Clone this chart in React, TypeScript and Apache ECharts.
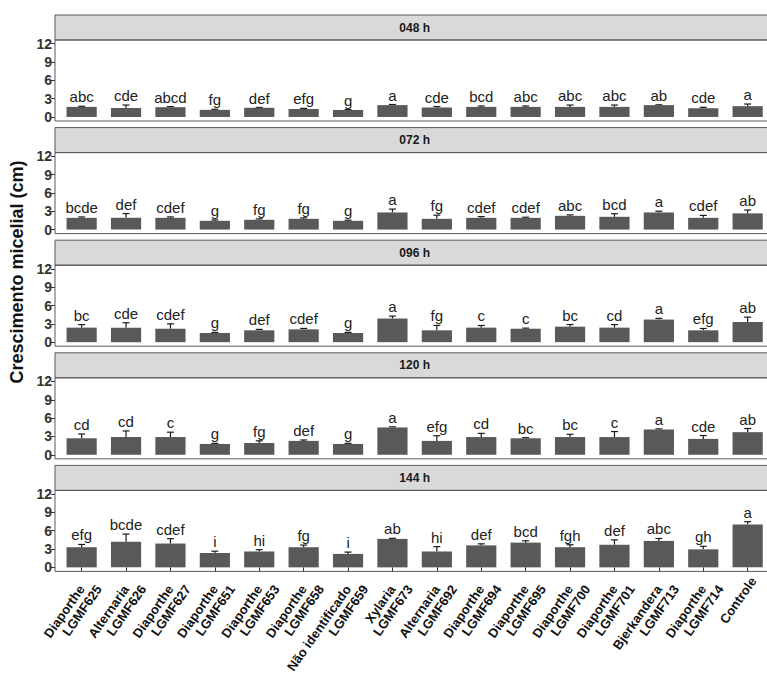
import React, { useEffect, useRef } from "react";
import * as echarts from "echarts";

const categories = [
  "Diaporthe\nLGMF625",
  "Alternaria\nLGMF626",
  "Diaporthe\nLGMF627",
  "Diaporthe\nLGMF651",
  "Diaporthe\nLGMF653",
  "Diaporthe\nLGMF658",
  "Não identificado\nLGMF659",
  "Xylaria\nLGMF673",
  "Alternaria\nLGMF692",
  "Diaporthe\nLGMF694",
  "Diaporthe\nLGMF695",
  "Diaporthe\nLGMF700",
  "Diaporthe\nLGMF701",
  "Bjerkandera\nLGMF713",
  "Diaporthe\nLGMF714",
  "Controle",
];

const panelTitles = ["048 h", "072 h", "096 h", "120 h", "144 h"];
const yTicks = [0, 3, 6, 9, 12];

const mean048 = [1.65, 1.45, 1.6, 1.16, 1.5, 1.3, 1.15, 1.94, 1.55, 1.65, 1.65, 1.65, 1.65, 1.94, 1.43, 1.77];
const sd048 = [0.1, 0.5, 0.1, 0.1, 0.05, 0.1, 0.05, 0.1, 0.15, 0.15, 0.15, 0.3, 0.3, 0.05, 0.15, 0.35];
const letters048 = ["abc", "cde", "abcd", "fg", "def", "efg", "g", "a", "cde", "bcd", "abc", "abc", "abc", "ab", "cde", "a"];

const mean072 = [1.92, 1.92, 1.92, 1.43, 1.6, 1.76, 1.43, 2.8, 1.76, 1.92, 1.92, 2.25, 2.09, 2.8, 1.92, 2.65];
const sd072 = [0.15, 0.7, 0.15, 0.15, 0.15, 0.15, 0.1, 0.55, 0.6, 0.2, 0.1, 0.15, 0.5, 0.2, 0.4, 0.55];
const letters072 = ["bcde", "def", "cdef", "g", "fg", "fg", "g", "a", "fg", "cdef", "cdef", "abc", "bcd", "a", "cdef", "ab"];

const mean096 = [2.38, 2.38, 2.2, 1.5, 1.94, 2.1, 1.5, 3.87, 1.94, 2.38, 2.2, 2.54, 2.38, 3.7, 1.94, 3.3];
const sd096 = [0.5, 0.8, 0.8, 0.1, 0.15, 0.15, 0.1, 0.4, 0.8, 0.35, 0.1, 0.35, 0.5, 0.2, 0.3, 0.8];
const letters096 = ["bc", "cde", "cdef", "g", "def", "cdef", "g", "a", "fg", "c", "c", "bc", "cd", "a", "efg", "ab"];

const mean120 = [2.7, 2.9, 2.9, 1.77, 1.93, 2.27, 1.77, 4.47, 2.27, 2.9, 2.7, 2.9, 2.9, 4.14, 2.6, 3.7];
const sd120 = [0.7, 1.0, 0.8, 0.1, 0.35, 0.15, 0.1, 0.1, 0.85, 0.6, 0.1, 0.45, 0.9, 0.1, 0.55, 0.6];
const letters120 = ["cd", "cd", "c", "g", "fg", "def", "g", "a", "efg", "cd", "bc", "bc", "c", "a", "cde", "ab"];

const mean144 = [3.3, 4.2, 3.9, 2.35, 2.6, 3.3, 2.2, 4.66, 2.6, 3.6, 4.05, 3.3, 3.7, 4.33, 2.95, 7.03];
const sd144 = [0.45, 1.25, 0.8, 0.3, 0.3, 0.35, 0.3, 0.1, 0.8, 0.25, 0.3, 0.4, 0.8, 0.4, 0.5, 0.45];
const letters144 = ["efg", "bcde", "cdef", "i", "hi", "fg", "i", "ab", "hi", "def", "bcd", "fgh", "def", "abc", "gh", "a"];

const means = [mean048, mean072, mean096, mean120, mean144];
const sds = [sd048, sd072, sd096, sd120, sd144];
const letters = [letters048, letters072, letters096, letters120, letters144];

const FONT = '"Liberation Sans", Arial, Helvetica, sans-serif';

export default function App() {
  const ref = useRef<HTMLDivElement>(null);

  useEffect(() => {
    document.documentElement.style.overflow = "hidden";
    document.body.style.overflow = "hidden";
    const chart = echarts.init(ref.current!, null, { renderer: "svg" });

    const panelLeft = 55;
    const panelWidth = 719.3;
    const pitch = panelWidth / 16.2;
    const gridLeft = panelLeft + 0.6 * pitch - 0.5 * pitch;
    const gridWidth = pitch * 16;
    const firstTop = 15;
    const step = 112.6;
    const stripH = 25;
    const plotH = 81;

    const grids: any[] = [];
    const xAxes: any[] = [];
    const yAxes: any[] = [];
    const series: any[] = [];
    const graphics: any[] = [];

    panelTitles.forEach((title, i) => {
      const T = firstTop + i * step;
      const isLast = i === panelTitles.length - 1;
      grids.push({
        left: gridLeft,
        width: gridWidth,
        top: T + stripH,
        height: plotH,
        containLabel: false,
        outerBoundsMode: "none",
      });
      xAxes.push({
        type: "category",
        gridIndex: i,
        data: categories,
        axisLine: { show: false },
        axisTick: { show: isLast, alignWithLabel: true, length: 4, lineStyle: { color: "#333" } },
        axisLabel: {
          show: isLast,
          interval: 0,
          rotate: 55,
          margin: 3,
          align: "right",
          verticalAlign: "top",
          color: "#111",
          fontFamily: FONT,
          fontWeight: "bold",
          fontSize: 13,
          lineHeight: 14,
          formatter: (v: string) => {
            const parts = v.split("\n");
            if (parts.length < 2) return `{b|${parts[0]}}`;
            return `{a|${parts[0]}}\n{b|${parts[1]}}`;
          },
          rich: {
            a: { fontFamily: FONT, fontWeight: "bold", fontSize: 13, color: "#111", lineHeight: 14, padding: [0, 10, 0, 0] },
            b: { fontFamily: FONT, fontWeight: "bold", fontSize: 13, color: "#111", lineHeight: 14 },
          },
        },
        splitLine: { show: false },
      });
      yAxes.push({
        type: "value",
        gridIndex: i,
        min: -0.66,
        max: 12.6,
        offset: gridLeft - panelLeft,
        axisLine: { show: false },
        splitLine: { show: false },
        axisTick: { show: true, length: 4, customValues: yTicks, lineStyle: { color: "#333" } },
        axisLabel: {
          customValues: yTicks,
          margin: 3,
          color: "#333",
          fontFamily: FONT,
          fontWeight: "bold",
          fontSize: 14,
        },
      });
      series.push({
        type: "bar",
        xAxisIndex: i,
        yAxisIndex: i,
        data: means[i],
        barWidth: "68%",
        itemStyle: { color: "#595959" },
        silent: true,
      });
      const lets = letters[i];
      series.push({
        type: "custom",
        xAxisIndex: i,
        yAxisIndex: i,
        data: means[i].map((m, j) => [j, m, sds[i][j]]),
        clip: false,
        silent: true,
        renderItem: (params: any, api: any) => {
          const x = api.value(0);
          const m = api.value(1);
          const s = api.value(2);
          const base = api.coord([x, m]);
          const top = api.coord([x, m + s]);
          return {
            type: "group",
            children: [
              { type: "line", shape: { x1: base[0], y1: base[1], x2: top[0], y2: top[1] }, style: { stroke: "#1a1a1a", lineWidth: 1.2 } },
              { type: "line", shape: { x1: top[0] - 3.5, y1: top[1], x2: top[0] + 3.5, y2: top[1] }, style: { stroke: "#1a1a1a", lineWidth: 1.2 } },
              {
                type: "text",
                x: top[0],
                y: top[1] - 2,
                style: {
                  text: lets[params.dataIndex],
                  fill: "#222",
                  font: `15px ${FONT}`,
                  align: "center",
                  verticalAlign: "bottom",
                },
              },
            ],
          };
        },
      });

      graphics.push({
        type: "rect",
        shape: { x: panelLeft, y: T, width: panelWidth, height: stripH },
        style: { fill: "#d9d9d9", stroke: "#5a5a5a", lineWidth: 1 },
        silent: true,
      });
      graphics.push({
        type: "text",
        x: panelLeft + panelWidth / 2,
        y: T + stripH / 2,
        style: {
          text: title,
          font: `bold 12px ${FONT}`,
          fill: "#1a1a1a",
          align: "center",
          verticalAlign: "middle",
        },
        silent: true,
      });
      graphics.push({
        type: "rect",
        shape: { x: panelLeft, y: T + stripH, width: panelWidth, height: plotH },
        style: { fill: "none", stroke: "#5a5a5a", lineWidth: 1 },
        silent: true,
        z: 10,
      });
    });

    graphics.push({
      type: "text",
      x: 17,
      y: 272,
      rotation: Math.PI / 2,
      style: {
        text: "Crescimento micelial (cm)",
        font: `bold 18px ${FONT}`,
        fill: "#111",
        align: "center",
        verticalAlign: "middle",
      },
      silent: true,
    });

    chart.setOption({
      animation: false,
      backgroundColor: "#ffffff",
      grid: grids,
      xAxis: xAxes,
      yAxis: yAxes,
      series,
      graphic: graphics,
    });

    return () => chart.dispose();
  }, []);

  return (
    <div
      ref={ref}
      style={{ position: "absolute", left: 0, top: 0, width: 800, height: 673 }}
    />
  );
}
